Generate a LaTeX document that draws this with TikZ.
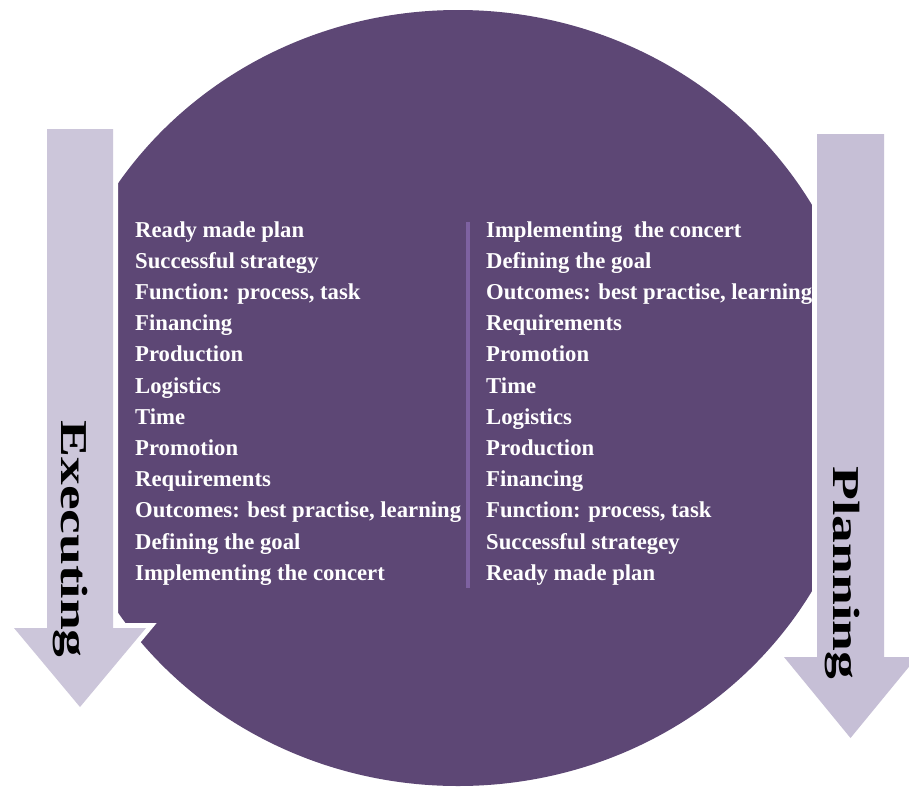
\documentclass[tikz,border=0pt]{standalone}
\usepackage{fontspec}
\setmainfont{Liberation Serif}
\definecolor{circpurple}{HTML}{5D4775}
\definecolor{arrowL}{HTML}{CCC6DA}
\definecolor{arrowR}{HTML}{C6BFD6}
\definecolor{divline}{HTML}{7E62A1}
\tikzset{
  itemtext/.style={anchor=base west, inner sep=0pt, text=white, font=\fontsize{22.7}{26}\selectfont\bfseries},
  sidelabel/.style={anchor=base, inner sep=0pt, rotate=-90, text=black, font=\fontsize{38}{42}\selectfont\bfseries},
  arrowborder/.style={draw=white, line width=10pt, line join=miter},
}
\begin{document}
\begin{tikzpicture}[x=1pt,y=-1pt]
\useasboundingbox (0,0) rectangle (909,787);
\clip (0,0) rectangle (909,787);
% big disc
\fill[circpurple] (458,398) ellipse [x radius=408, y radius=388];
% left arrow (Executing)
\draw[arrowborder] (47,129) -- (113,129) -- (113,628) -- (146,628) -- (80,707) -- (14,628) -- (47,628) -- cycle;
\fill[arrowL] (47,129) -- (113,129) -- (113,628) -- (146,628) -- (80,707) -- (14,628) -- (47,628) -- cycle;
% right arrow (Planning)
\draw[arrowborder] (817,134) -- (884,134) -- (884,657) -- (917,657) -- (850.5,738) -- (784,657) -- (817,657) -- cycle;
\fill[arrowR] (817,134) -- (884,134) -- (884,657) -- (917,657) -- (850.5,738) -- (784,657) -- (817,657) -- cycle;
% divider
\coordinate (dtop) at (468,222);
\coordinate (dbot) at (468,588);
\draw[divline, line width=4pt] (dtop) -- (dbot);
% left column
\foreach \t [count=\i] in {Ready made plan, Successful strategy, {Function: process, task}, Financing, Production, Logistics, Time, Promotion, Requirements, {Outcomes: best practise, learning}, Defining the goal, Implementing the concert}
  \node[itemtext] (L\i) at (135,{237+31.2*(\i-1)}) {\t};
% right column
\foreach \t [count=\i] in {Implementing\ \ the concert, Defining the goal, {Outcomes: best practise, learning}, Requirements, Promotion, Time, Logistics, Production, Financing, {Function: process, task}, Successful strategey, Ready made plan}
  \node[itemtext] (R\i) at (486,{237+31.2*(\i-1)}) {\t};
% side labels
\node[sidelabel] (exec) at (61,539) {\scalebox{1.46}[1]{Executing}};
\node[sidelabel] (plan) at (833,573) {\scalebox{1.46}[1]{Planning}};
\end{tikzpicture}
\end{document}
